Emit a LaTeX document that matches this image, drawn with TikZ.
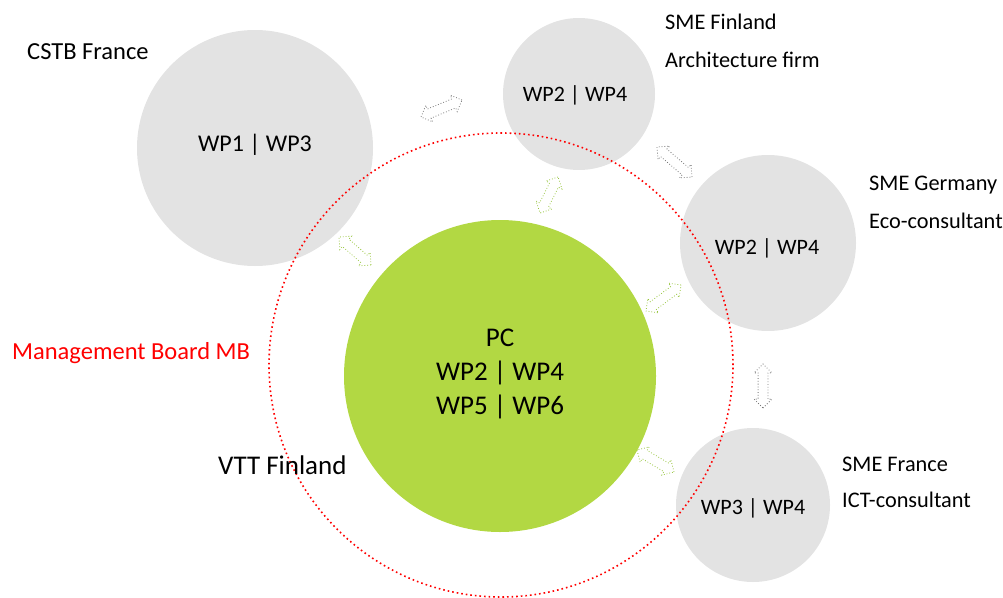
\documentclass[tikz,border=0pt]{standalone}
\usepackage{fontspec}
\setmainfont{Carlito}
\usetikzlibrary{shapes.arrows,calc}
\definecolor{circgray}{RGB}{227,227,227}
\definecolor{pcgreen}{RGB}{178,216,67}
\definecolor{arrgreen}{RGB}{150,196,60}
\definecolor{arrgray}{RGB}{120,120,120}
\tikzset{
  partner/.style={circle, fill=circgray, inner sep=0pt},
  lbl/.style={anchor=west, inner sep=0pt, font=\fontsize{22.3}{26}\selectfont},
  wp/.style={inner sep=0pt, font=\fontsize{22}{26}\selectfont},
  dblarr/.style={double arrow, draw=#1, line width=0.8pt, dotted, inner sep=4.5pt,
     double arrow head extend=4pt, fill=none},
}
\newcommand\linkarrow[3]{%
  \path let \p1=($(#2)-(#1)$) in
    node[dblarr=#3, rotate={atan2(\y1,\x1)}, minimum height={veclen(\x1,\y1)}]
      at ($(#1)!0.5!(#2)$) {};}
\begin{document}
\begin{tikzpicture}[x=1pt,y=-1pt]
\useasboundingbox (0,0) rectangle (1003,597);
% partner circles
\node[partner, minimum size=236pt] (cstb) at (255,148) {};
\node[partner, minimum size=152pt] (fin) at (579,94) {};
\node[partner, minimum size=176pt] (ger) at (768,243) {};
\node[partner, minimum size=154pt] (fra) at (753,505) {};
% management board
\node[circle, draw=red, line width=1.6pt, dash pattern=on 1.6pt off 3pt, minimum size=464pt, inner sep=0pt] (mb) at (501,365) {};
% PC
\node[circle, fill=pcgreen, minimum size=312pt, inner sep=0pt] (pc) at (500,376) {};
% texts in circles
\node[wp, font=\fontsize{24}{28}\selectfont] (t1) at (255,145) {WP1 | WP3};
\node[wp] (t2) at (575,95) {WP2 | WP4};
\node[wp] (t3) at (767,248) {WP2 | WP4};
\node[wp] (t4) at (753,508) {WP3 | WP4};
\node[wp, font=\fontsize{27}{34}\selectfont, align=center] (tpc) at (500,374) {PC\\WP2 | WP4\\WP5 | WP6};
% labels
\node[lbl, font=\fontsize{24.5}{28}\selectfont] (l1) at (27,52) {CSTB France};
\node[lbl] (l2) at (665,22) {SME Finland};
\node[lbl] (l3) at (665,60) {Architecture firm};
\node[lbl] (l4) at (869,185) {SME Germany};
\node[lbl] (l5) at (869,221) {Eco-consultant};
\node[lbl] (l6) at (842,464) {SME France};
\node[lbl] (l7) at (842,500) {ICT-consultant};
\node[lbl, text=red, font=\fontsize{24.5}{28}\selectfont] (l8) at (12,353) {Management Board MB};
\node[lbl, font=\fontsize{27}{30}\selectfont] (l9) at (218,465) {VTT Finland};
% arrow end coordinates
\coordinate (a1) at (421,117); \coordinate (b1) at (462,100);
\coordinate (a2) at (540,213); \coordinate (b2) at (558,177);
\coordinate (a3) at (339,237); \coordinate (b3) at (371,265);
\coordinate (a4) at (657,147); \coordinate (b4) at (692,177);
\coordinate (a5) at (646,311); \coordinate (b5) at (681,285);
\coordinate (a6) at (763,364); \coordinate (b6) at (763,408);
\coordinate (a7) at (637,450); \coordinate (b7) at (674,472);
\linkarrow{a1}{b1}{arrgray}
\linkarrow{a2}{b2}{arrgreen}
\linkarrow{a3}{b3}{arrgreen}
\linkarrow{a4}{b4}{arrgray}
\linkarrow{a5}{b5}{arrgreen}
\linkarrow{a6}{b6}{arrgray}
\linkarrow{a7}{b7}{arrgreen}
\end{tikzpicture}
\end{document}
